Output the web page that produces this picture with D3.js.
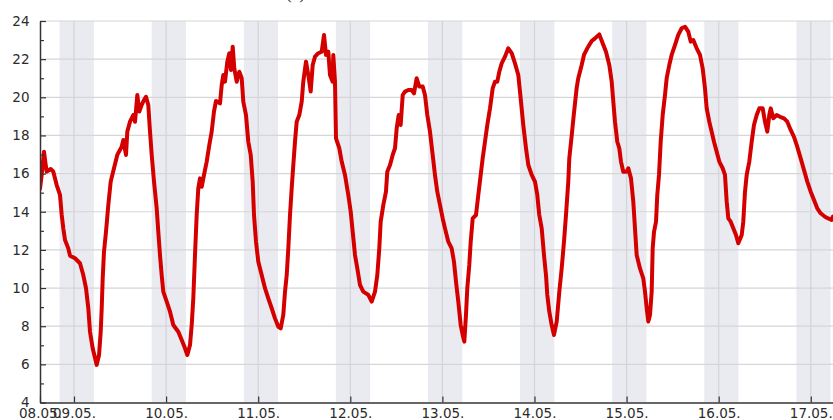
<!DOCTYPE html>
<html><head><meta charset="utf-8">
<script src="https://cdn.jsdelivr.net/npm/d3@7"></script>
<style>body{margin:0;background:#fff;overflow:hidden}</style>
</head><body><svg id="chart" width="833" height="420"></svg>
<script>
// Hours since 08.05. 00:00
const hours = [15.14,15.58,16.18,16.63,16.89,17.93,18.61,19.49,20.35,20.80,21.21,21.66,22.51,22.96,24.26,25.56,26.42,27.13,27.73,28.17,28.87,29.92,30.52,30.96,31.22,31.48,31.82,32.34,32.94,33.56,34.42,35.28,36.43,36.85,37.55,37.89,38.59,39.45,39.90,40.50,41.02,41.64,42.24,42.76,43.36,43.81,44.25,44.85,45.55,45.97,46.41,46.85,47.27,48.16,49.02,49.88,51.18,52.07,52.93,53.53,54.23,54.67,55.09,55.53,55.97,56.39,56.83,57.28,57.88,58.58,59.26,59.88,60.48,61.0,62.05,62.49,62.91,63.35,63.95,64.47,64.91,65.36,65.77,66.40,67.08,67.70,68.12,68.82,69.42,70.05,70.57,70.91,71.43,72.03,72.91,73.77,74.63,75.52,76.38,77.24,77.86,78.54,78.99,79.43,79.85,80.29,80.73,81.15,81.59,82.03,82.71,83.34,83.75,84.46,85.06,85.68,86.20,86.80,87.66,88.55,89.15,89.67,90.27,90.71,91.41,91.57,92.01,92.28,93.13,93.76,94.62,95.48,96.11,96.63,97.23,97.83,98.53,99.39,100.69,101.58,102.44,103.04,103.56,103.92,104.60,105.30,105.64,106.35,107.05,107.65,108.09,108.61,109.13,109.66,110.26,111.12,112.0,112.60,113.30,113.98,114.87,115.47,116.07,116.77,117.47,118.07,118.67,119.38,120.08,120.68,121.54,122.42,123.02,123.55,124.14,124.77,125.29,125.71,126.15,126.49,127.01,127.38,127.90,128.76,129.36,129.98,130.50,131.10,131.70,132.41,133.11,133.71,134.31,134.83,135.45,136.31,137.17,138.06,138.92,139.78,140.40,141.08,141.79,142.39,143.27,144.13,144.73,145.25,145.88,146.48,147.0,147.34,147.86,148.48,149.08,149.79,150.47,151.09,151.69,152.21,152.81,153.07,153.70,154.30,155.0,155.41,156.30,156.90,157.76,158.91,159.77,160.89,161.77,162.63,163.50,164.12,164.54,164.98,165.58,166.10,166.54,167.14,168.03,168.45,169.15,169.75,170.19,170.63,171.49,172.35,172.80,173.24,173.66,174.10,174.54,174.80,175.15,175.67,176.0,176.45,176.89,177.41,178.01,178.45,179.13,179.75,180.61,181.47,182.36,183.22,184.08,184.71,185.38,186.27,187.13,187.83,188.43,188.88,189.55,190.17,190.78,191.48,192.16,193.04,193.64,194.09,194.51,195.13,195.81,196.51,197.11,198.0,198.41,198.86,199.30,199.98,200.60,201.20,201.91,202.58,203.47,204.07,204.67,205.19,205.56,206.23,207.12,207.98,209.02,209.88,210.76,211.62,212.48,213.37,214.23,215.09,215.98,216.84,217.69,218.58,219.70,220.56,221.45,221.79];
const temps = [15.2,15.93,17.15,16.45,16.1,16.24,16.1,15.4,14.88,13.83,13.13,12.52,12.08,11.7,11.56,11.3,10.68,9.99,8.94,7.71,6.84,5.97,6.49,7.71,8.94,10.51,11.91,12.95,14.35,15.58,16.28,16.98,17.41,17.76,16.98,18.2,18.72,19.07,18.72,20.12,19.25,19.6,19.86,20.03,19.6,18.2,16.98,15.58,14.18,12.95,11.73,10.68,9.81,9.29,8.76,8.06,7.71,7.28,6.84,6.49,7.01,8.06,9.46,11.73,13.83,15.23,15.75,15.31,15.93,16.63,17.5,18.2,19.25,19.81,19.68,20.64,21.17,20.82,21.87,22.31,21.43,22.65,21.52,20.82,21.34,21.0,19.77,19.07,17.67,16.98,15.58,13.83,12.43,11.38,10.68,9.99,9.46,8.94,8.41,7.97,7.89,8.59,9.81,10.68,12.08,13.83,15.23,16.45,17.67,18.72,19.07,19.77,20.82,21.87,21.17,20.3,21.69,22.13,22.31,22.39,23.27,22.22,22.39,21.17,20.82,22.22,20.82,17.85,17.33,16.63,15.93,14.88,14.0,12.95,11.73,11.03,10.16,9.81,9.64,9.29,9.81,10.68,12.08,13.48,14.35,15.05,16.1,16.45,16.98,17.33,18.37,19.07,18.55,20.12,20.3,20.38,20.38,20.21,21.0,20.56,20.56,20.12,19.07,18.2,16.98,15.93,15.05,14.35,13.65,13.13,12.43,12.08,11.38,10.33,9.29,8.06,7.54,7.19,8.59,9.99,11.21,12.43,13.65,13.83,14.88,15.93,16.8,17.67,18.55,19.42,20.47,20.82,20.82,21.34,21.78,22.13,22.57,22.31,21.78,21.17,19.95,18.55,17.33,16.45,15.93,15.58,14.88,13.83,13.13,11.73,10.68,9.64,8.76,8.06,7.54,8.24,9.81,11.03,12.43,13.83,15.58,16.8,18.0,19.2,20.5,21.0,21.69,22.22,22.57,22.95,23.09,23.3,22.83,22.39,21.69,20.82,19.77,18.72,17.67,17.33,16.63,16.1,16.1,16.28,15.75,14.53,13.13,11.73,11.03,10.51,9.81,8.94,8.24,8.59,9.81,12.08,12.95,13.48,14.88,15.93,17.67,19.07,20.12,21.0,21.69,22.22,22.74,23.27,23.62,23.7,23.44,22.92,23.0,22.57,22.22,21.52,20.47,19.42,18.72,18.2,17.67,17.15,16.63,16.28,15.93,14.53,13.65,13.48,13.13,12.78,12.35,12.78,13.48,15.05,15.93,16.63,17.67,18.55,19.07,19.42,19.42,18.72,18.2,19.07,19.42,18.9,19.07,18.98,18.9,18.72,18.29,17.93,17.41,16.8,16.19,15.58,15.05,14.62,14.18,13.92,13.74,13.65,13.57,13.75];
const xTickLabels = ["08.05.","09.05.","10.05.","11.05.","12.05.","13.05.","14.05.","15.05.","16.05.","17.05."];
const xTickHours = [15.14,24,48,72,96,120,144,168,192,216];
const yTicks = [4,6,8,10,12,14,16,18,20,22,24];
const yMinorTicks = [5,7,9,11,13,15,17,19,21,23];
const nightStarts = [20.25,44.25,68.25,92.25,116.25,140.25,164.25,188.25,212.25];
const nightEnds = [29.17,53.17,77.17,101.17,125.17,149.17,173.17,197.17,221.17];
const domainHours = [15.14, 222];
const yDomain = [4, 24];

const base = Date.UTC(2024, 4, 8);
const toDate = h => new Date(base + h * 3600e3);

const svg = d3.select("#chart");
const L = 40, R = 833.8, T = 21, B = 402.5;
const x = d3.scaleUtc().domain(domainHours.map(toDate)).range([L, R]);
const y = d3.scaleLinear().domain(yDomain).range([B, T]);

svg.append("defs").append("clipPath").attr("id", "clip")
  .append("rect").attr("x", L).attr("y", T - 5).attr("width", R - L).attr("height", B - T + 5);

const plot = svg.append("g").attr("clip-path", "url(#clip)");

// night bands
plot.selectAll("rect.night").data(nightStarts.map((s, i) => [s, nightEnds[i]]))
  .join("rect").attr("class", "night")
  .attr("x", d => x(toDate(d[0])))
  .attr("width", d => x(toDate(d[1])) - x(toDate(d[0])))
  .attr("y", T).attr("height", B - T)
  .attr("fill", "#e9ebf1");

// horizontal grid
plot.selectAll("line.hg").data(yTicks.filter(v => v > yDomain[0]))
  .join("line").attr("class", "hg")
  .attr("x1", L).attr("x2", R)
  .attr("y1", d => y(d)).attr("y2", d => y(d))
  .attr("stroke", "#d6d6d6").attr("stroke-width", 1.2);

// vertical grid
plot.selectAll("line.vg").data(xTickHours.slice(1))
  .join("line").attr("class", "vg")
  .attr("x1", d => x(toDate(d))).attr("x2", d => x(toDate(d)))
  .attr("y1", T).attr("y2", B)
  .attr("stroke", "#d3d3d8").attr("stroke-width", 1.2);

// temperature line
const line = d3.line().x((d, i) => x(toDate(hours[i]))).y(d => y(d)).curve(d3.curveLinear);
plot.append("path").datum(temps)
  .attr("d", line)
  .attr("fill", "none").attr("stroke", "#d40000")
  .attr("stroke-width", 4).attr("stroke-linejoin", "round").attr("stroke-linecap", "round");

// axes
const fontFam = "'DejaVu Sans', sans-serif";
const yAxis = svg.append("g").attr("transform", `translate(${L},0)`)
  .call(d3.axisLeft(y).tickValues(yTicks).tickSizeInner(-6).tickSizeOuter(0).tickPadding(10.5).tickFormat(d3.format("d")));
svg.append("g").attr("transform", `translate(${L},0)`)
  .call(d3.axisLeft(y).tickValues(yMinorTicks).tickSizeInner(-4).tickSizeOuter(0).tickFormat(""))
  .call(g => g.select(".domain").remove());
const xAxis = svg.append("g").attr("transform", `translate(0,${B})`)
  .call(d3.axisBottom(x).tickValues(xTickHours.map(toDate)).tickSizeInner(-6).tickSizeOuter(0).tickPadding(6)
    .tickFormat((d, i) => xTickLabels[i]));

svg.selectAll(".domain").attr("stroke", "#333").attr("stroke-width", 1.5);
svg.selectAll(".tick line").attr("stroke", "#333").attr("stroke-width", 1.2);
svg.selectAll(".tick text").attr("font-family", fontFam).attr("font-size", 13.5).attr("fill", "#2b2b2b");

// partially visible caption
svg.append("text").attr("x", 286).attr("y", -1.5)
  .attr("font-family", "'Liberation Serif', serif").attr("font-size", 17).attr("fill", "#222")
  .text("(a)");
</script></body></html>
